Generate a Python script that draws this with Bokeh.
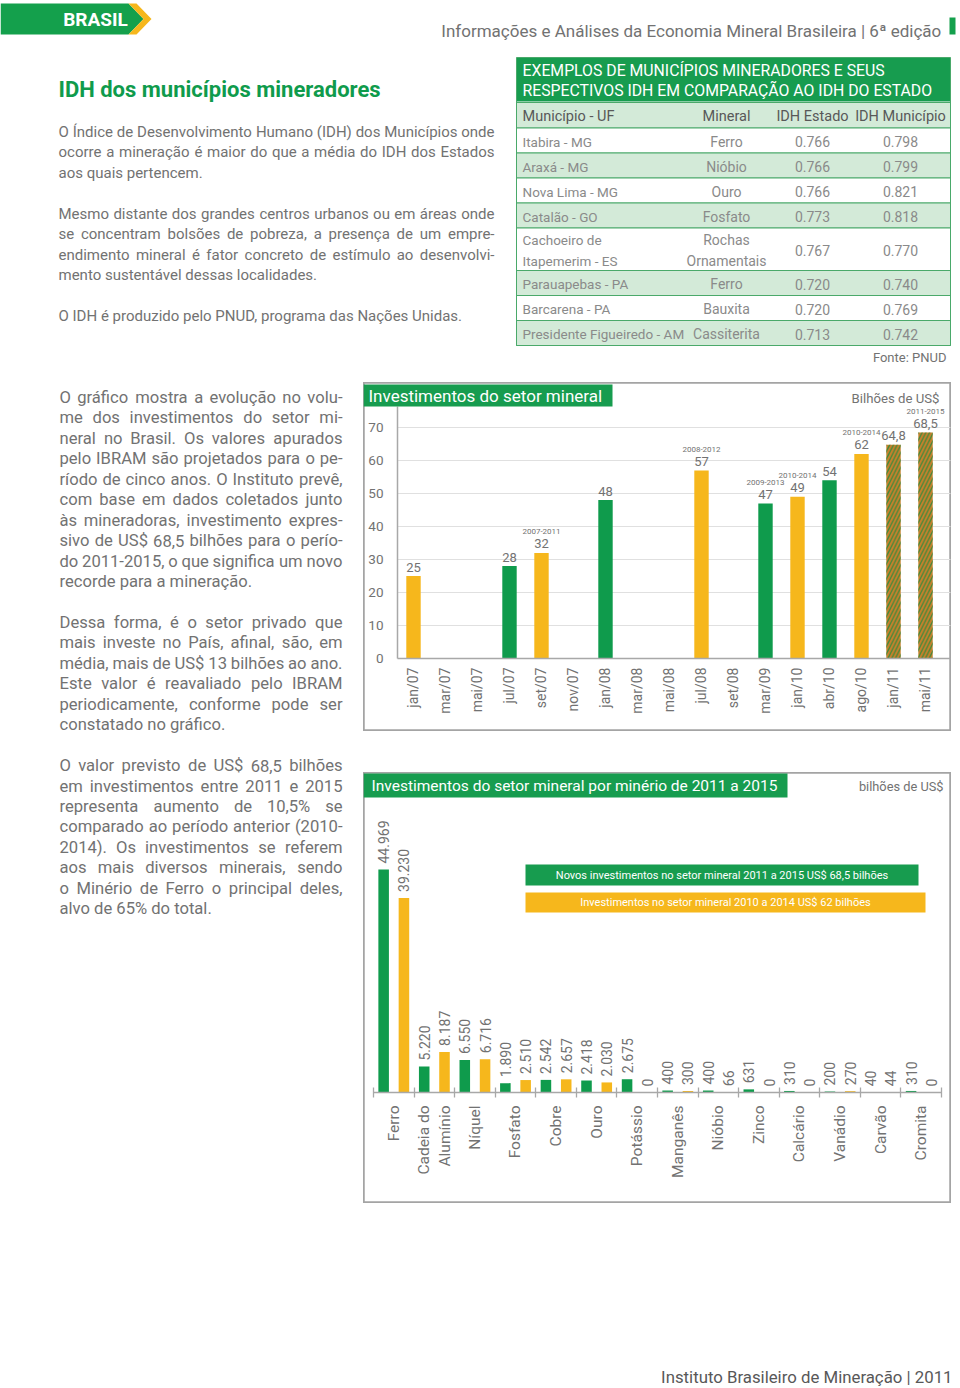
import math
import unicodedata
from bokeh.plotting import figure
from bokeh.models import Range1d, FixedTicker, BoxAnnotation, Label, Spacer, ColumnDataSource
from bokeh.layouts import row, column
from bokeh.transform import dodge
from bokeh.embed import file_html
from bokeh.resources import INLINE
from bokeh.core.properties import value

# ---------------- data ----------------
idh_municipios = ["Itabira - MG", "Araxá - MG", "Nova Lima - MG", "Catalão - GO",
                  "Cachoeiro de\nItapemerim - ES", "Parauapebas - PA", "Barcarena - PA",
                  "Presidente Figueiredo - AM"]
idh_minerais = ["Ferro", "Nióbio", "Ouro", "Fosfato", "Rochas\nOrnamentais", "Ferro",
                "Bauxita", "Cassiterita"]
idh_estado = [0.766, 0.766, 0.766, 0.773, 0.767, 0.720, 0.720, 0.713]
idh_municipio = [0.798, 0.799, 0.821, 0.818, 0.770, 0.740, 0.769, 0.742]
idh_colunas = ["Município - UF", "Mineral", "IDH Estado", "IDH Município"]

inv_months = ["jan/07", "mar/07", "mai/07", "jul/07", "set/07", "nov/07", "jan/08", "mar/08",
              "mai/08", "jul/08", "set/08", "mar/09", "jan/10", "abr/10", "ago/10", "jan/11", "mai/11"]
inv_bar_months = ["jan/07", "jul/07", "set/07", "jan/08", "jul/08", "mar/09", "jan/10",
                  "abr/10", "ago/10", "jan/11", "mai/11"]
inv_bar_values = [25, 28, 32, 48, 57, 47, 49, 54, 62, 64.8, 68.5]
inv_bar_series = ["amarelo", "verde", "amarelo", "verde", "amarelo", "verde", "amarelo",
                  "verde", "amarelo", "previsto", "previsto"]
inv_bar_periods = ["", "", "2007-2011", "", "2008-2012", "2009-2013", "2010-2014", "",
                   "2010-2014", "", "2011-2015"]
inv_y_ticks = [0, 10, 20, 30, 40, 50, 60, 70]

min_names = ["Ferro", "Cadeia do\nAlumínio", "Níquel", "Fosfato", "Cobre", "Ouro", "Potássio",
             "Manganês", "Nióbio", "Zinco", "Calcário", "Vanádio", "Carvão", "Cromita"]
min_2011_2015 = [44969, 5220, 6550, 1890, 2542, 2418, 2675, 400, 400, 631, 310, 200, 40, 310]
min_2010_2014 = [39230, 8187, 6716, 2510, 2657, 2030, 0, 300, 66, 0, 0, 270, 44, 0]

# ---------------- style ----------------
FONT = "Roboto"
GREEN = "#0f9b4c"
BAND = "#179c4f"
BANNER = "#14a04c"
YELLOW = "#f6b71c"
HATCH_BASE = "#c9802c"
HATCH_LINE = "#3b8a3b"
LIGHT = "#d3ead8"
TLINE = "#4aa96a"
GRAY = "#727272"
DGRAY = "#585858"
AXIS = "#a8a8a8"
GRID = "#e0e0e0"
BOX = "#a4a4a4"

# approximate Roboto advance widths (em) used only to spread justified words
CW = {" ": 0.248, "!": 0.258, "$": 0.562, "%": 0.733, "(": 0.342, ")": 0.348, ",": 0.196,
      "-": 0.276, ".": 0.264, "/": 0.412, ":": 0.242, "ª": 0.43,
      "A": 0.653, "B": 0.623, "C": 0.651, "D": 0.656, "E": 0.568, "F": 0.553, "G": 0.681,
      "H": 0.713, "I": 0.272, "J": 0.552, "K": 0.627, "L": 0.538, "M": 0.873, "N": 0.713,
      "O": 0.688, "P": 0.631, "Q": 0.688, "R": 0.616, "S": 0.593, "T": 0.597, "U": 0.649,
      "V": 0.637, "W": 0.887, "X": 0.627, "Y": 0.601, "Z": 0.599,
      "a": 0.544, "b": 0.561, "c": 0.523, "d": 0.564, "e": 0.530, "f": 0.347, "g": 0.561,
      "h": 0.551, "i": 0.243, "j": 0.239, "k": 0.507, "l": 0.243, "m": 0.876, "n": 0.552,
      "o": 0.570, "p": 0.561, "q": 0.568, "r": 0.338, "s": 0.516, "t": 0.327, "u": 0.551,
      "v": 0.484, "w": 0.751, "x": 0.496, "y": 0.473, "z": 0.496}
for d in "0123456789":
    CW[d] = 0.562


def canvas(x0, y0, w, h):
    p = figure(width=w, height=h, x_range=Range1d(x0, x0 + w), y_range=Range1d(y0 + h, y0),
               output_backend="svg", toolbar_location=None, x_axis_location=None,
               y_axis_location=None, min_border=0, outline_line_color=None,
               background_fill_color="white", border_fill_color="white")
    p.grid.visible = False
    return p


def put(p, x, y, s, size, color=GRAY, align="left", bold=False, baseline="middle"):
    p.text(x=[x], y=[y], text=[s], text_font=value(FONT), text_font_size=f"{size}px",
           text_color=color, text_align=align, text_baseline=baseline,
           text_font_style="bold" if bold else "normal")


def est_width(word, size):
    tot = 0.0
    for ch in word:
        base = unicodedata.normalize("NFD", ch)[0]
        tot += CW.get(base, 0.55)
    return tot * size


def paragraph(p, lines, x_left, x_right, y0, dy, size, color=GRAY):
    for k, s in enumerate(lines):
        if not s:
            continue
        y = y0 + dy * k
        last = (k + 1 >= len(lines)) or (lines[k + 1] == "")
        words = s.split(" ")
        if last or len(words) < 2:
            put(p, x_left, y, s, size, color)
            continue
        widths = [est_width(w, size) for w in words]
        gap = (x_right - x_left - sum(widths)) / (len(words) - 1)
        xs, cur = [], x_left
        for w in widths:
            xs.append(cur)
            cur += w + gap
        p.text(x=xs[:-1], y=[y] * (len(words) - 1), text=words[:-1], text_font=value(FONT),
               text_font_size=f"{size}px", text_color=color, text_align="left",
               text_baseline="middle")
        put(p, x_right, y, words[-1], size, color, align="right")


def slabel(p, x, y, s, size, color=GRAY, align="left", baseline="middle"):
    p.add_layout(Label(x=x, y=y, x_units="screen", y_units="screen", text=s, text_font=FONT,
                       text_font_size=f"{size}px", text_color=color, text_align=align,
                       text_baseline=baseline))


def sbox(p, l, r, t, b, fill=None, line=None, lw=1.0):
    p.add_layout(BoxAnnotation(left=l, right=r, top=t, bottom=b, left_units="screen",
                               right_units="screen", top_units="screen", bottom_units="screen",
                               fill_color=fill, fill_alpha=1.0, line_color=line, line_width=lw))


def fmt_dec(v):
    return f"{v:g}".replace(".", ",")


def fmt_thou(v):
    return f"{v:,}".replace(",", ".")


# ---------------- header ----------------
hd = canvas(0, 0, 958, 48)
hd.patch(x=[0, 128, 143, 128, 0], y=[3, 3, 18.5, 34, 34], fill_color=BANNER, line_color=None)
hd.patch(x=[128, 136, 151, 136, 128, 143], y=[3, 3, 18.5, 34, 34, 18.5], fill_color=YELLOW,
         line_color=None)
put(hd, 95, 19, "BRASIL", 19, "white", align="center", bold=True)
put(hd, 945, 30, "Informações e Análises da Economia Mineral Brasileira |  6ª edição", 17,
    GRAY, align="right")
hd.quad(left=[949], right=[955], top=[17], bottom=[34], fill_color=BANNER, line_color=None)

# ---------------- top-left text ----------------
tl = canvas(0, 48, 512, 332)
put(tl, 58, 89, "IDH dos municípios mineradores", 22, GREEN, bold=True)
top_lines = [
    "O Índice de Desenvolvimento Humano (IDH) dos Municípios onde",
    "ocorre a mineração é maior do que a média do IDH dos Estados",
    "aos quais pertencem.",
    "",
    "Mesmo distante dos grandes centros urbanos ou em áreas onde",
    "se concentram bolsões de pobreza, a presença de um empre-",
    "endimento mineral é fator concreto de estímulo ao desenvolvi-",
    "mento sustentável dessas localidades.",
    "",
    "O IDH é produzido pelo PNUD, programa das Nações Unidas.",
]
paragraph(tl, top_lines, 58, 494, 131, 20.5, 15)

# ---------------- table ----------------
tb = canvas(512, 48, 446, 332)
TL, TR = 516, 950
tb.quad(left=[TL], right=[TR], top=[57], bottom=[101], fill_color=BAND, line_color=None)
put(tb, 522, 70, "EXEMPLOS DE MUNICÍPIOS MINERADORES E SEUS", 15.8, "white")
put(tb, 522, 90, "RESPECTIVOS IDH EM COMPARAÇÃO AO IDH DO ESTADO", 15.8, "white")
tb.quad(left=[TL], right=[TR], top=[102], bottom=[127.5], fill_color=LIGHT, line_color=TLINE)
col_x = [522, 726, 812, 900]
col_align = ["left", "center", "center", "center"]
for cx, ca, s in zip(col_x, col_align, idh_colunas):
    put(tb, cx, 116, s, 14.5, DGRAY, align=ca)

n_lines = [max(a.count("\n"), b.count("\n")) + 1 for a, b in zip(idh_municipios, idh_minerais)]
heights = [25 if n == 1 else 42.5 for n in n_lines]
tops, bottoms = [], []
cur = 127.5
for h in heights:
    tops.append(cur)
    cur += h
    bottoms.append(cur)
fills = ["white" if i % 2 == 0 else LIGHT for i in range(len(heights))]
centers = [(a + b) / 2 + 1 for a, b in zip(tops, bottoms)]
tsrc = ColumnDataSource(dict(top=tops, bottom=bottoms, fill=fills, y=centers,
                             mun=idh_municipios, minr=idh_minerais,
                             est=[f"{v:.3f}" for v in idh_estado],
                             muni=[f"{v:.3f}" for v in idh_municipio]))
tb.quad(left=TL, right=TR, top="top", bottom="bottom", fill_color="fill", line_color=TLINE,
        source=tsrc)
for cx, ca, fld, sz in zip(col_x, col_align, ["mun", "minr", "est", "muni"], [13.5, 14, 14, 14]):
    tb.text(x=cx, y="y", text=fld, source=tsrc, text_font=value(FONT), text_font_size=f"{sz}px",
            text_color="#8a8a8a", text_align=ca, text_baseline="middle", text_line_height=1.3)
tb.quad(left=[TL], right=[TR], top=[57], bottom=[bottoms[-1]], fill_color=None, line_color=TLINE)
put(tb, 946, 357, "Fonte: PNUD", 13, GRAY, align="right")

# ---------------- left column text ----------------
lt = canvas(0, 380, 363, 830)
left_lines = [
    "O gráfico mostra a evolução no volu-",
    "me dos investimentos do setor mi-",
    "neral no Brasil. Os valores apurados",
    "pelo IBRAM são projetados para o pe-",
    "ríodo de cinco anos. O Instituto prevê,",
    "com base em dados coletados junto",
    "às mineradoras, investimento expres-",
    "sivo de US$ 68,5 bilhões para o perío-",
    "do 2011-2015, o que significa um novo",
    "recorde para a mineração.",
    "",
    "Dessa forma, é o setor privado que",
    "mais investe no País, afinal, são, em",
    "média, mais de US$ 13 bilhões ao ano.",
    "Este valor é reavaliado pelo IBRAM",
    "periodicamente, conforme pode ser",
    "constatado no gráfico.",
    "",
    "O valor previsto de US$ 68,5 bilhões",
    "em investimentos entre 2011 e 2015",
    "representa aumento de 10,5% se",
    "comparado ao período anterior (2010-",
    "2014). Os investimentos se referem",
    "aos mais diversos minerais, sendo",
    "o Minério de Ferro o principal deles,",
    "alvo de 65% do total.",
]
paragraph(lt, left_lines, 59, 342, 397, 20.45, 16.6)

# ---------------- chart 1 ----------------
# canvas = box (page 363..951 x 382..731); axes drawn inside at fixed locations
c1 = figure(width=588, height=349, x_range=Range1d(-1.5625, 16.8125),
            y_range=Range1d(-22.12, 83.64), output_backend="svg", toolbar_location=None,
            min_border=0, outline_line_color=BOX, outline_line_width=2.5,
            background_fill_color="white", border_fill_color="white")
c1.grid.visible = False
c1.segment(x0=-0.5, x1=16.78, y0=inv_y_ticks[1:], y1=inv_y_ticks[1:], line_color=GRID,
           line_width=1)
c1.yaxis.ticker = FixedTicker(ticks=inv_y_ticks)
c1.yaxis.fixed_location = -0.5
c1.yaxis.bounds = (0, 76.4)
c1.xaxis.ticker = FixedTicker(ticks=list(range(len(inv_months))))
c1.xaxis.fixed_location = 0
c1.xaxis.bounds = (-0.5, 16.78)
c1.xaxis.major_label_overrides = {i: m for i, m in enumerate(inv_months)}
c1.xaxis.major_label_orientation = math.pi / 2
for ax in (c1.xaxis, c1.yaxis):
    ax.axis_line_color = AXIS
    ax.axis_line_width = 1.5
    ax.major_tick_in = 0
    ax.major_tick_out = 0
    ax.minor_tick_in = 0
    ax.minor_tick_out = 0
    ax.major_label_text_font = FONT
    ax.major_label_text_color = GRAY
c1.xaxis.major_label_text_font_size = "14px"
c1.xaxis.major_label_standoff = 9
c1.yaxis.major_label_text_font_size = "13.5px"
c1.yaxis.major_label_standoff = 14

color_map = {"verde": GREEN, "amarelo": YELLOW, "previsto": HATCH_BASE}
bx = [inv_months.index(m) for m in inv_bar_months]
plain = [i for i, s in enumerate(inv_bar_series) if s != "previsto"]
hatched = [i for i, s in enumerate(inv_bar_series) if s == "previsto"]
src_plain = ColumnDataSource(dict(x=[bx[i] for i in plain], top=[inv_bar_values[i] for i in plain],
                                  color=[color_map[inv_bar_series[i]] for i in plain]))
src_hatch = ColumnDataSource(dict(x=[bx[i] for i in hatched],
                                  top=[inv_bar_values[i] for i in hatched]))
c1.vbar(x="x", top="top", width=0.45, source=src_plain, fill_color="color", line_color=None)
c1.vbar(x="x", top="top", width=0.45, source=src_hatch, fill_color=HATCH_BASE, line_color=None,
        hatch_pattern=value("/"), hatch_color=HATCH_LINE, hatch_scale=7.5, hatch_weight=1.3)
src_lbl = ColumnDataSource(dict(x=bx, y=inv_bar_values, v=[fmt_dec(v) for v in inv_bar_values],
                                per=inv_bar_periods))
c1.text(x="x", y="y", text="v", source=src_lbl, y_offset=-9, text_align="center",
        text_baseline="middle", text_font=value(FONT), text_font_size="13px", text_color=GRAY)
c1.text(x="x", y="y", text="per", source=src_lbl, y_offset=-21, text_align="center",
        text_baseline="middle", text_font=value(FONT), text_font_size="8px", text_color=GRAY)
sbox(c1, 0, 249, 347, 325, fill=BAND)
slabel(c1, 5, 336, "Investimentos do setor mineral", 17, "white")
slabel(c1, 576, 333, "Bilhões de US$", 13.2, GRAY, align="right")

# ---------------- chart 2 ----------------
# canvas = box (page 363..951 x 772..1203)
c2 = figure(width=588, height=431, x_range=Range1d(-0.7465, 13.7465),
            y_range=Range1d(-22384, 64529), output_backend="svg", toolbar_location=None,
            y_axis_location=None, min_border=0, outline_line_color=BOX, outline_line_width=2.5,
            background_fill_color="white", border_fill_color="white")
c2.grid.visible = False
c2.xaxis.ticker = FixedTicker(ticks=list(range(len(min_names))),
                              minor_ticks=[i - 0.5 for i in range(len(min_names) + 1)])
c2.xaxis.fixed_location = 0
c2.xaxis.bounds = (-0.5, 13.5)
c2.xaxis.major_label_overrides = {i: n for i, n in enumerate(min_names)}
c2.xaxis.major_label_orientation = math.pi / 2
c2.xaxis.axis_line_color = AXIS
c2.xaxis.axis_line_width = 1.3
c2.xaxis.major_tick_in = 0
c2.xaxis.major_tick_out = 0
c2.xaxis.minor_tick_in = 5
c2.xaxis.minor_tick_out = 5
c2.xaxis.minor_tick_line_color = AXIS
c2.xaxis.minor_tick_line_width = 1.3
c2.xaxis.major_label_standoff = 8
c2.xaxis.major_label_text_font = FONT
c2.xaxis.major_label_text_font_size = "15.5px"
c2.xaxis.major_label_text_color = GRAY

src2 = ColumnDataSource(dict(x=list(range(len(min_names))), novo=min_2011_2015, ant=min_2010_2014,
                             lnovo=[fmt_thou(v) for v in min_2011_2015],
                             lant=[fmt_thou(v) for v in min_2010_2014]))
c2.vbar(x=dodge("x", -0.25), top="novo", width=0.26, source=src2, fill_color=GREEN,
        line_color=None)
c2.vbar(x=dodge("x", 0.25), top="ant", width=0.26, source=src2, fill_color=YELLOW,
        line_color=None)
for off, fld in ((-0.25, "novo"), (0.25, "ant")):
    c2.text(x=dodge("x", off), y=fld, text="l" + fld, source=src2, angle=math.pi / 2,
            y_offset=-6, text_align="left", text_baseline="middle", text_font=value(FONT),
            text_font_size="14px", text_color=GRAY)
sbox(c2, 0, 424, 430, 406, fill=BAND)
slabel(c2, 8, 418, "Investimentos do setor mineral por minério de 2011 a 2015", 15.5, "white")
slabel(c2, 580, 417, "bilhões de US$", 12.8, GRAY, align="right")
sbox(c2, 162, 555, 339, 318, fill=BAND)
slabel(c2, 358.5, 328.5, "Novos investimentos no setor mineral 2011 a 2015 US$ 68,5 bilhões",
       11, "white", align="center")
sbox(c2, 162, 562, 311, 291, fill=YELLOW)
slabel(c2, 362, 301, "Investimentos no setor mineral 2010 a 2014 US$ 62 bilhões", 11, "white",
       align="center")

# ---------------- footer ----------------
ft = canvas(0, 1210, 958, 176)
put(ft, 952, 1376, "Instituto Brasileiro de Mineração | 2011", 16.8, DGRAY, align="right")

# ---------------- layout ----------------
charts = column(Spacer(width=588, height=2), c1, Spacer(width=588, height=41), c2,
                Spacer(width=588, height=7))
layout = column(hd, row(tl, tb), row(lt, charts, Spacer(width=7, height=830)), ft)

with open("out.html", "w") as f:
    f.write(file_html(layout, INLINE, title="IDH dos municípios mineradores"))
